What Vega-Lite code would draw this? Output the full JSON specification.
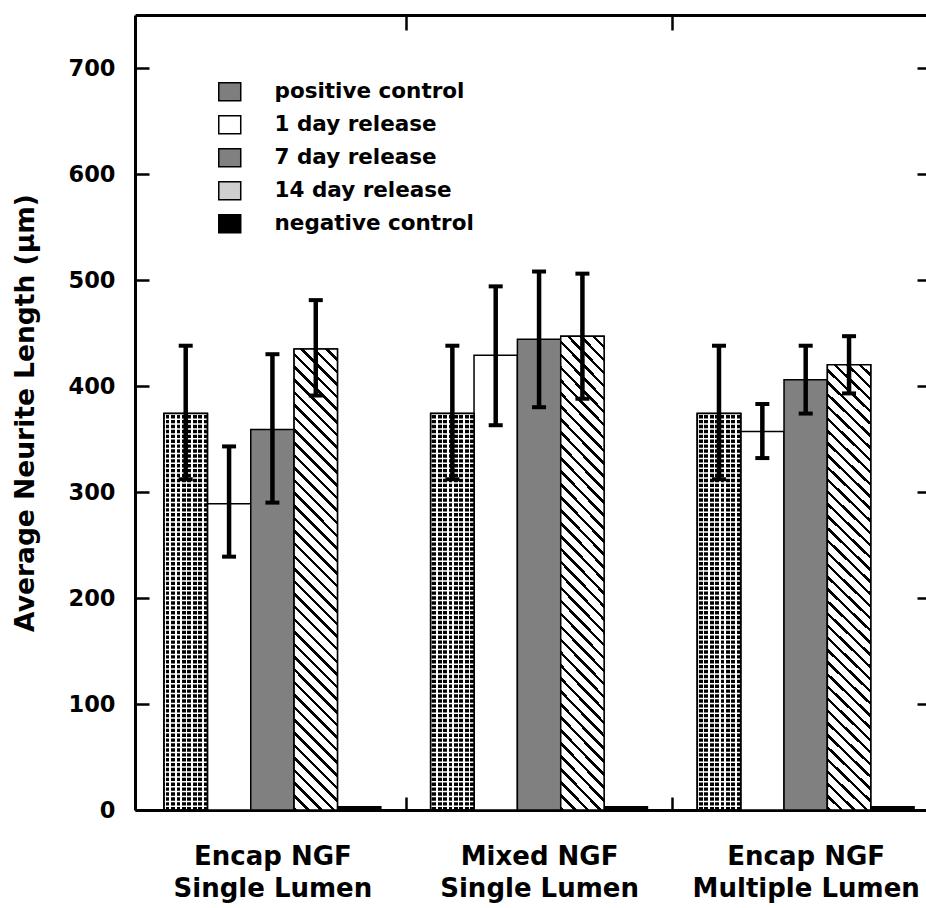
{
  "$schema": "https://vega.github.io/schema/vega-lite/v6.json",
  "autosize": {"type": "none"},
  "padding": {"left": 135, "top": 15, "right": 0, "bottom": 98},
  "width": 791,
  "height": 795,
  "background": "white",
  "config": {
    "view": {"stroke": null},
    "axis": {"grid": false, "domainColor": "#000", "tickColor": "#000", "labelColor": "#000", "titleColor": "#000", "domainWidth": 3, "tickWidth": 2.5, "labelFont": "DejaVu Sans", "labelFontWeight": "bold", "titleFont": "DejaVu Sans", "titleFontWeight": "bold"},
    "legend": {"orient": "none", "legendX": 84, "legendY": 66, "title": null, "padding": 0,
      "symbolType": "M-1.22,-1H1.22V1H-1.22Z", "symbolSize": 324, "symbolStrokeWidth": 1.5, "symbolOpacity": 1,
      "labelFont": "DejaVu Sans", "labelFontSize": 21.5, "labelFontWeight": "bold", "labelColor": "#000", "labelOffset": 34, "rowPadding": 8, "labelLimit": 400}
  },
  "data": {"values": [
    {"group": "Encap NGF|Single Lumen", "series": "positive control", "value": 374, "lo": 312, "hi": 438},
    {"group": "Encap NGF|Single Lumen", "series": "1 day release", "value": 289, "lo": 239, "hi": 343},
    {"group": "Encap NGF|Single Lumen", "series": "7 day release", "value": 359, "lo": 290, "hi": 430},
    {"group": "Encap NGF|Single Lumen", "series": "14 day release", "value": 435, "lo": 391, "hi": 481},
    {"group": "Encap NGF|Single Lumen", "series": "negative control", "value": 3, "lo": null, "hi": null},
    {"group": "Mixed NGF|Single Lumen", "series": "positive control", "value": 374, "lo": 312, "hi": 438},
    {"group": "Mixed NGF|Single Lumen", "series": "1 day release", "value": 429, "lo": 363, "hi": 494},
    {"group": "Mixed NGF|Single Lumen", "series": "7 day release", "value": 444, "lo": 380, "hi": 508},
    {"group": "Mixed NGF|Single Lumen", "series": "14 day release", "value": 447, "lo": 388, "hi": 506},
    {"group": "Mixed NGF|Single Lumen", "series": "negative control", "value": 3, "lo": null, "hi": null},
    {"group": "Encap NGF|Multiple Lumen", "series": "positive control", "value": 374, "lo": 312, "hi": 438},
    {"group": "Encap NGF|Multiple Lumen", "series": "1 day release", "value": 357, "lo": 332, "hi": 383},
    {"group": "Encap NGF|Multiple Lumen", "series": "7 day release", "value": 406, "lo": 374, "hi": 438},
    {"group": "Encap NGF|Multiple Lumen", "series": "14 day release", "value": 420, "lo": 393, "hi": 447},
    {"group": "Encap NGF|Multiple Lumen", "series": "negative control", "value": 3, "lo": null, "hi": null}
  ]},
  "resolve": {"axis": {"x": "independent", "y": "independent"}},
  "layer": [
    {
      "mark": {"type": "bar", "strokeWidth": 1.5},
      "encoding": {
        "x": {"field": "group", "type": "nominal", "sort": null,
          "scale": {"paddingInner": 0.187, "paddingOuter": 0.0768, "align": 0.709},
          "axis": {"orient": "bottom", "title": null, "labelExpr": "split(datum.label, '|')", "labelAngle": 0, "labelFontSize": 26, "labelLineHeight": 32.5, "labelBaseline": "top", "labelPadding": 46, "labelLimit": 600, "tickSize": -13, "bandPosition": 1, "tickOffset": 24.9, "labelOffset": -24.9}},
        "xOffset": {"field": "series", "type": "nominal", "sort": ["positive control", "1 day release", "7 day release", "14 day release", "negative control"], "scale": {"paddingInner": 0, "paddingOuter": 0}},
        "y": {"field": "value", "type": "quantitative", "scale": {"domain": [0, 750], "nice": false},
          "axis": {"orient": "left", "values": [0, 100, 200, 300, 400, 500, 600, 700], "tickSize": -14, "labelPadding": 34, "labelFontSize": 22.5, "title": "Average Neurite Length (μm)", "titleFontSize": 26.5, "titleX": -110, "titleBaseline": "middle"}},
        "stroke": {"field": "series", "type": "nominal",
          "scale": {"domain": ["positive control", "1 day release", "7 day release", "14 day release", "negative control"], "range": ["#000000", "#000000", "#000000", "#000000", "#000000"]}},
        "fill": {"field": "series", "type": "nominal",
          "scale": {"domain": ["positive control", "1 day release", "7 day release", "14 day release", "negative control"], "range": ["#7e7e7e", "#ffffff", "#808080", "#cfcfcf", "#000000"]}}
      }
    },
    {
      "transform": [{"filter": "datum.series === 'positive control'"}],
      "mark": {"type": "bar", "stroke": "#000", "strokeWidth": 1.5, "fill": {"gradient": "linear", "x1": 0, "y1": 0, "x2": 1, "y2": 0, "stops": [
        {"offset": 0, "color": "#fff"}, {"offset": 0.0375, "color": "#fff"}, {"offset": 0.0375, "color": "#000"}, {"offset": 0.125, "color": "#000"},
        {"offset": 0.125, "color": "#fff"}, {"offset": 0.1625, "color": "#fff"}, {"offset": 0.1625, "color": "#000"}, {"offset": 0.25, "color": "#000"},
        {"offset": 0.25, "color": "#fff"}, {"offset": 0.2875, "color": "#fff"}, {"offset": 0.2875, "color": "#000"}, {"offset": 0.375, "color": "#000"},
        {"offset": 0.375, "color": "#fff"}, {"offset": 0.4125, "color": "#fff"}, {"offset": 0.4125, "color": "#000"}, {"offset": 0.5, "color": "#000"},
        {"offset": 0.5, "color": "#fff"}, {"offset": 0.5375, "color": "#fff"}, {"offset": 0.5375, "color": "#000"}, {"offset": 0.625, "color": "#000"},
        {"offset": 0.625, "color": "#fff"}, {"offset": 0.6625, "color": "#fff"}, {"offset": 0.6625, "color": "#000"}, {"offset": 0.75, "color": "#000"},
        {"offset": 0.75, "color": "#fff"}, {"offset": 0.7875, "color": "#fff"}, {"offset": 0.7875, "color": "#000"}, {"offset": 0.875, "color": "#000"},
        {"offset": 0.875, "color": "#fff"}, {"offset": 0.9125, "color": "#fff"}, {"offset": 0.9125, "color": "#000"}, {"offset": 1, "color": "#000"}]}},
      "encoding": {
        "x": {"field": "group", "type": "nominal", "sort": null, "axis": null},
        "xOffset": {"field": "series", "type": "nominal", "sort": ["positive control", "1 day release", "7 day release", "14 day release", "negative control"]},
        "y": {"field": "value", "type": "quantitative", "axis": null}
      }
    },
    {
      "transform": [{"filter": "datum.series === 'positive control'"}],
      "mark": {"type": "rule", "stroke": "#fff", "strokeWidth": 43.35, "strokeDash": [1.5, 3.4], "strokeCap": "butt"},
      "encoding": {
        "x": {"field": "group", "type": "nominal", "sort": null, "axis": null},
        "xOffset": {"field": "series", "type": "nominal", "sort": ["positive control", "1 day release", "7 day release", "14 day release", "negative control"]},
        "y": {"field": "value", "type": "quantitative", "axis": null},
        "y2": {"datum": 0}
      }
    },
    {
      "transform": [{"filter": "datum.series === 'positive control'"}],
      "mark": {"type": "bar", "stroke": "#000", "strokeWidth": 1.5, "fillOpacity": 0},
      "encoding": {
        "x": {"field": "group", "type": "nominal", "sort": null, "axis": null},
        "xOffset": {"field": "series", "type": "nominal", "sort": ["positive control", "1 day release", "7 day release", "14 day release", "negative control"]},
        "y": {"field": "value", "type": "quantitative", "axis": null}
      }
    },
    {
      "transform": [{"filter": "datum.series === '14 day release'"}],
      "mark": {"type": "bar", "stroke": "#000", "strokeWidth": 1.5, "fill": {"gradient": "linear", "x1": 1, "y1": 0, "x2": 0.898, "y2": 1.084, "stops": [
        {"offset": 0, "color": "#fff"}, {"offset": 0.018, "color": "#fff"}, {"offset": 0.018, "color": "#000"}, {"offset": 0.025, "color": "#000"},
        {"offset": 0.025, "color": "#fff"}, {"offset": 0.043, "color": "#fff"}, {"offset": 0.043, "color": "#000"}, {"offset": 0.05, "color": "#000"},
        {"offset": 0.05, "color": "#fff"}, {"offset": 0.068, "color": "#fff"}, {"offset": 0.068, "color": "#000"}, {"offset": 0.075, "color": "#000"},
        {"offset": 0.075, "color": "#fff"}, {"offset": 0.093, "color": "#fff"}, {"offset": 0.093, "color": "#000"}, {"offset": 0.1, "color": "#000"},
        {"offset": 0.1, "color": "#fff"}, {"offset": 0.118, "color": "#fff"}, {"offset": 0.118, "color": "#000"}, {"offset": 0.125, "color": "#000"},
        {"offset": 0.125, "color": "#fff"}, {"offset": 0.143, "color": "#fff"}, {"offset": 0.143, "color": "#000"}, {"offset": 0.15, "color": "#000"},
        {"offset": 0.15, "color": "#fff"}, {"offset": 0.168, "color": "#fff"}, {"offset": 0.168, "color": "#000"}, {"offset": 0.175, "color": "#000"},
        {"offset": 0.175, "color": "#fff"}, {"offset": 0.193, "color": "#fff"}, {"offset": 0.193, "color": "#000"}, {"offset": 0.2, "color": "#000"},
        {"offset": 0.2, "color": "#fff"}, {"offset": 0.218, "color": "#fff"}, {"offset": 0.218, "color": "#000"}, {"offset": 0.225, "color": "#000"},
        {"offset": 0.225, "color": "#fff"}, {"offset": 0.243, "color": "#fff"}, {"offset": 0.243, "color": "#000"}, {"offset": 0.25, "color": "#000"},
        {"offset": 0.25, "color": "#fff"}, {"offset": 0.268, "color": "#fff"}, {"offset": 0.268, "color": "#000"}, {"offset": 0.275, "color": "#000"},
        {"offset": 0.275, "color": "#fff"}, {"offset": 0.293, "color": "#fff"}, {"offset": 0.293, "color": "#000"}, {"offset": 0.3, "color": "#000"},
        {"offset": 0.3, "color": "#fff"}, {"offset": 0.318, "color": "#fff"}, {"offset": 0.318, "color": "#000"}, {"offset": 0.325, "color": "#000"},
        {"offset": 0.325, "color": "#fff"}, {"offset": 0.343, "color": "#fff"}, {"offset": 0.343, "color": "#000"}, {"offset": 0.35, "color": "#000"},
        {"offset": 0.35, "color": "#fff"}, {"offset": 0.368, "color": "#fff"}, {"offset": 0.368, "color": "#000"}, {"offset": 0.375, "color": "#000"},
        {"offset": 0.375, "color": "#fff"}, {"offset": 0.393, "color": "#fff"}, {"offset": 0.393, "color": "#000"}, {"offset": 0.4, "color": "#000"},
        {"offset": 0.4, "color": "#fff"}, {"offset": 0.418, "color": "#fff"}, {"offset": 0.418, "color": "#000"}, {"offset": 0.425, "color": "#000"},
        {"offset": 0.425, "color": "#fff"}, {"offset": 0.443, "color": "#fff"}, {"offset": 0.443, "color": "#000"}, {"offset": 0.45, "color": "#000"},
        {"offset": 0.45, "color": "#fff"}, {"offset": 0.468, "color": "#fff"}, {"offset": 0.468, "color": "#000"}, {"offset": 0.475, "color": "#000"},
        {"offset": 0.475, "color": "#fff"}, {"offset": 0.493, "color": "#fff"}, {"offset": 0.493, "color": "#000"}, {"offset": 0.5, "color": "#000"},
        {"offset": 0.5, "color": "#fff"}, {"offset": 0.518, "color": "#fff"}, {"offset": 0.518, "color": "#000"}, {"offset": 0.525, "color": "#000"},
        {"offset": 0.525, "color": "#fff"}, {"offset": 0.543, "color": "#fff"}, {"offset": 0.543, "color": "#000"}, {"offset": 0.55, "color": "#000"},
        {"offset": 0.55, "color": "#fff"}, {"offset": 0.568, "color": "#fff"}, {"offset": 0.568, "color": "#000"}, {"offset": 0.575, "color": "#000"},
        {"offset": 0.575, "color": "#fff"}, {"offset": 0.593, "color": "#fff"}, {"offset": 0.593, "color": "#000"}, {"offset": 0.6, "color": "#000"},
        {"offset": 0.6, "color": "#fff"}, {"offset": 0.618, "color": "#fff"}, {"offset": 0.618, "color": "#000"}, {"offset": 0.625, "color": "#000"},
        {"offset": 0.625, "color": "#fff"}, {"offset": 0.643, "color": "#fff"}, {"offset": 0.643, "color": "#000"}, {"offset": 0.65, "color": "#000"},
        {"offset": 0.65, "color": "#fff"}, {"offset": 0.668, "color": "#fff"}, {"offset": 0.668, "color": "#000"}, {"offset": 0.675, "color": "#000"},
        {"offset": 0.675, "color": "#fff"}, {"offset": 0.693, "color": "#fff"}, {"offset": 0.693, "color": "#000"}, {"offset": 0.7, "color": "#000"},
        {"offset": 0.7, "color": "#fff"}, {"offset": 0.718, "color": "#fff"}, {"offset": 0.718, "color": "#000"}, {"offset": 0.725, "color": "#000"},
        {"offset": 0.725, "color": "#fff"}, {"offset": 0.743, "color": "#fff"}, {"offset": 0.743, "color": "#000"}, {"offset": 0.75, "color": "#000"},
        {"offset": 0.75, "color": "#fff"}, {"offset": 0.768, "color": "#fff"}, {"offset": 0.768, "color": "#000"}, {"offset": 0.775, "color": "#000"},
        {"offset": 0.775, "color": "#fff"}, {"offset": 0.793, "color": "#fff"}, {"offset": 0.793, "color": "#000"}, {"offset": 0.8, "color": "#000"},
        {"offset": 0.8, "color": "#fff"}, {"offset": 0.818, "color": "#fff"}, {"offset": 0.818, "color": "#000"}, {"offset": 0.825, "color": "#000"},
        {"offset": 0.825, "color": "#fff"}, {"offset": 0.843, "color": "#fff"}, {"offset": 0.843, "color": "#000"}, {"offset": 0.85, "color": "#000"},
        {"offset": 0.85, "color": "#fff"}, {"offset": 0.868, "color": "#fff"}, {"offset": 0.868, "color": "#000"}, {"offset": 0.875, "color": "#000"},
        {"offset": 0.875, "color": "#fff"}, {"offset": 0.893, "color": "#fff"}, {"offset": 0.893, "color": "#000"}, {"offset": 0.9, "color": "#000"},
        {"offset": 0.9, "color": "#fff"}, {"offset": 0.918, "color": "#fff"}, {"offset": 0.918, "color": "#000"}, {"offset": 0.925, "color": "#000"},
        {"offset": 0.925, "color": "#fff"}, {"offset": 0.943, "color": "#fff"}, {"offset": 0.943, "color": "#000"}, {"offset": 0.95, "color": "#000"},
        {"offset": 0.95, "color": "#fff"}, {"offset": 0.968, "color": "#fff"}, {"offset": 0.968, "color": "#000"}, {"offset": 0.975, "color": "#000"},
        {"offset": 0.975, "color": "#fff"}, {"offset": 0.993, "color": "#fff"}, {"offset": 0.993, "color": "#000"}, {"offset": 1, "color": "#000"}]}},
      "encoding": {
        "x": {"field": "group", "type": "nominal", "sort": null, "axis": null},
        "xOffset": {"field": "series", "type": "nominal", "sort": ["positive control", "1 day release", "7 day release", "14 day release", "negative control"]},
        "y": {"field": "value", "type": "quantitative", "axis": null}
      }
    },
    {
      "transform": [{"filter": "isValid(datum.lo)"}],
      "mark": {"type": "rule", "strokeWidth": 4.5, "color": "#000"},
      "encoding": {
        "x": {"field": "group", "type": "nominal", "sort": null,
          "axis": {"orient": "top", "labels": false, "title": null, "tickSize": -15, "bandPosition": 1, "tickOffset": 24.9}},
        "xOffset": {"field": "series", "type": "nominal", "sort": ["positive control", "1 day release", "7 day release", "14 day release", "negative control"]},
        "y": {"field": "lo", "type": "quantitative",
          "axis": {"orient": "right", "labels": false, "domain": false, "title": null, "tickSize": -9, "values": [100, 200, 300, 400, 500, 600, 700]}},
        "y2": {"field": "hi"}
      }
    },
    {
      "transform": [{"filter": "isValid(datum.lo)"}],
      "mark": {"type": "tick", "thickness": 4, "size": 14, "color": "#000", "opacity": 1},
      "encoding": {
        "x": {"field": "group", "type": "nominal", "sort": null, "axis": null},
        "xOffset": {"field": "series", "type": "nominal", "sort": ["positive control", "1 day release", "7 day release", "14 day release", "negative control"]},
        "y": {"field": "lo", "type": "quantitative", "axis": null}
      }
    },
    {
      "transform": [{"filter": "isValid(datum.lo)"}],
      "mark": {"type": "tick", "thickness": 4, "size": 14, "color": "#000", "opacity": 1},
      "encoding": {
        "x": {"field": "group", "type": "nominal", "sort": null, "axis": null},
        "xOffset": {"field": "series", "type": "nominal", "sort": ["positive control", "1 day release", "7 day release", "14 day release", "negative control"]},
        "y": {"field": "hi", "type": "quantitative", "axis": null}
      }
    }
  ]
}
